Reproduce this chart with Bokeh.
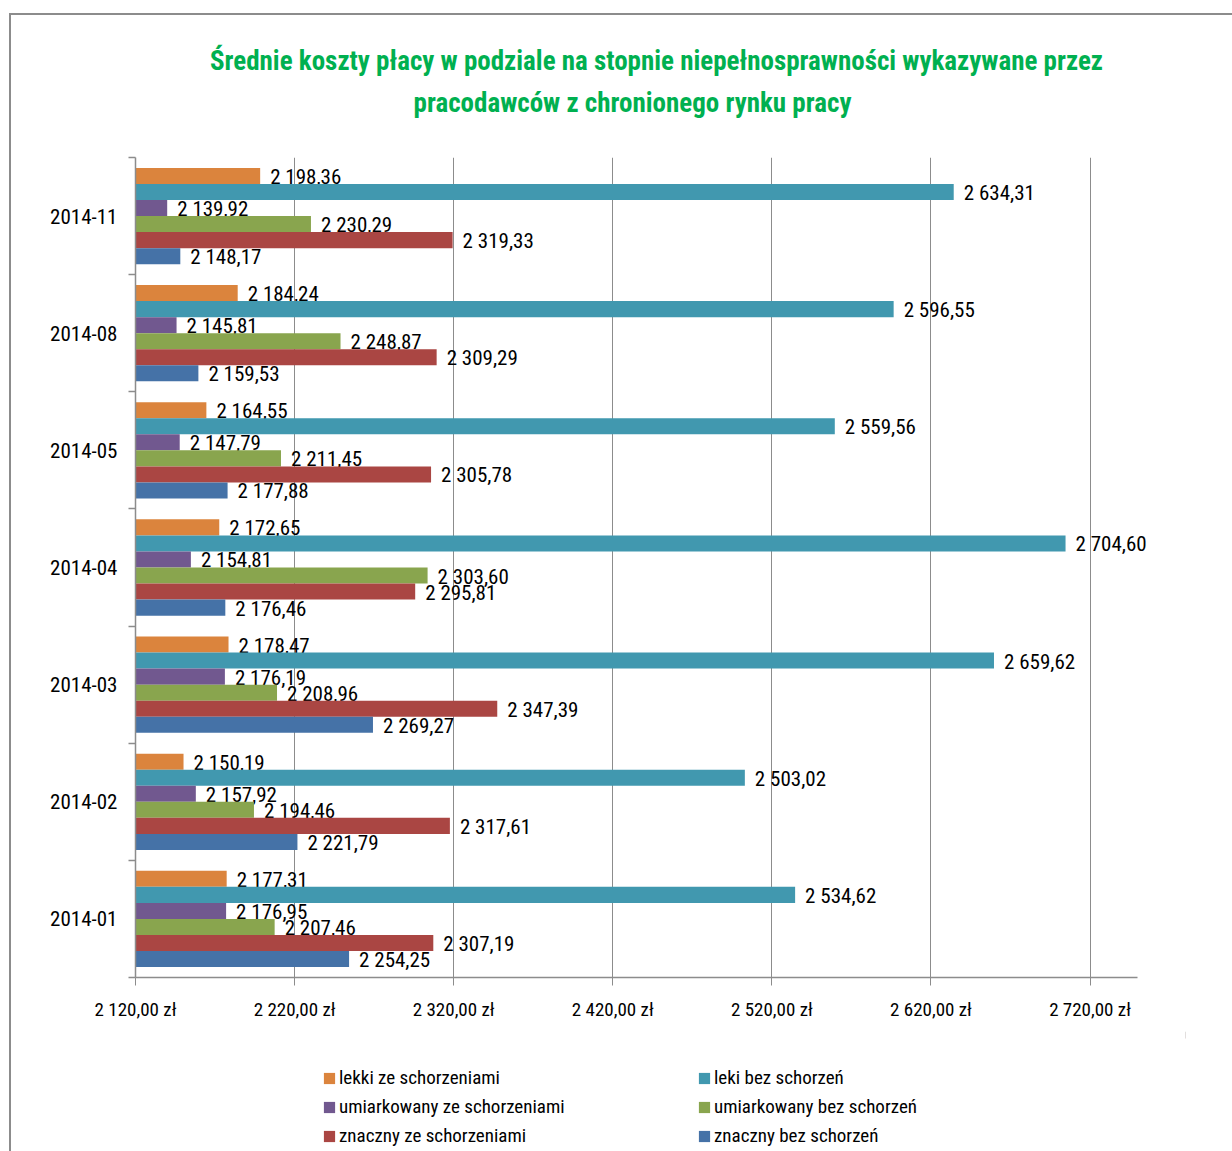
from bokeh.plotting import figure
from bokeh.models import Range1d, FixedTicker, Legend, LegendItem, ColumnDataSource, Label
from bokeh.layouts import column
from bokeh.core.properties import value
from bokeh.embed import file_html
from bokeh.resources import INLINE

# ---------------- data ----------------
categories = ["2014-11", "2014-08", "2014-05", "2014-04", "2014-03", "2014-02", "2014-01"]
series_names = ["lekki ze schorzeniami", "leki bez schorzeń",
                "umiarkowany ze schorzeniami", "umiarkowany bez schorzeń",
                "znaczny ze schorzeniami", "znaczny bez schorzeń"]
lekki_ze = [2198.36, 2184.24, 2164.55, 2172.65, 2178.47, 2150.19, 2177.31]
leki_bez = [2634.31, 2596.55, 2559.56, 2704.60, 2659.62, 2503.02, 2534.62]
umiarkowany_ze = [2139.92, 2145.81, 2147.79, 2154.81, 2176.19, 2157.92, 2176.95]
umiarkowany_bez = [2230.29, 2248.87, 2211.45, 2303.60, 2208.96, 2194.46, 2207.46]
znaczny_ze = [2319.33, 2309.29, 2305.78, 2295.81, 2347.39, 2317.61, 2307.19]
znaczny_bez = [2148.17, 2159.53, 2177.88, 2176.46, 2269.27, 2221.79, 2254.25]
series_values = [lekki_ze, leki_bez, umiarkowany_ze, umiarkowany_bez, znaczny_ze, znaczny_bez]
x_ticks = [2120, 2220, 2320, 2420, 2520, 2620, 2720]
title_lines = ["Średnie koszty płacy w podziale na stopnie niepełnosprawności wykazywane przez",
               "pracodawców z chronionego rynku pracy"]

# ---------------- style ----------------
colors = ["#DB843D", "#4198AF", "#71588F", "#89A54E", "#AA4643", "#4572A7"]
X_MIN, AX_END, VIEW_END = 2120, 2750, 2780
BAR_H = 0.137
FONT = "Roboto Condensed"
GRAY = "#8c8c8c"
W = 1232
FRAME_L, FRAME_R = 135, 1185          # plot frame in page pixels (shared by the column)
TITLE_H, MAIN_H, LEG_H = 150, 881, 120


def fmt(v, dec=2):
    s = f"{v:,.{dec}f}"
    return s.replace(",", " ").replace(".", ",")


def bare(h):
    f = figure(width=W, height=h, output_backend="svg", toolbar_location=None,
               x_axis_type=None, y_axis_type=None, min_border=0,
               min_border_left=FRAME_L, min_border_right=W - FRAME_R,
               x_range=Range1d(FRAME_L, FRAME_R), y_range=Range1d(h, 0))
    f.outline_line_color = None
    f.background_fill_color = None
    f.border_fill_color = None
    f.xgrid.visible = False
    f.ygrid.visible = False
    return f


# ---------------- title ----------------
pt = bare(TITLE_H)
for line, cx, cy in zip(title_lines, [656, 632], [60, 102]):
    pt.add_layout(Label(x=cx, y=cy, text=line, text_align="center", text_baseline="middle",
                        text_font=FONT, text_font_size="27px", text_font_style="bold",
                        text_color="#00B050"))

# ---------------- main chart ----------------
n = len(categories)
p = figure(width=W, height=MAIN_H, output_backend="svg", toolbar_location=None,
           x_range=Range1d(X_MIN, VIEW_END), y_range=Range1d(0, n),
           min_border_left=FRAME_L, min_border_right=W - FRAME_R, min_border_top=7,
           min_border_bottom=54)
p.outline_line_color = None
p.background_fill_color = "white"
p.border_fill_color = None

sources = []
for j, (name, vals) in enumerate(zip(series_names, series_values)):
    ys = [n - 0.5 - i + (2.5 - j) * BAR_H for i in range(n)]
    src = ColumnDataSource(dict(y=ys, right=vals, left=[X_MIN] * n,
                                lab=[fmt(v) for v in vals]))
    sources.append(src)
    p.hbar(y="y", left="left", right="right", height=BAR_H, source=src,
           fill_color=colors[j], line_color=None)
    p.text(x="right", y="y", text="lab", source=src, x_offset=10, y_offset=1,
           text_align="left", text_baseline="middle",
           text_font=value(FONT), text_font_size="21px", text_color="black")

p.xaxis.bounds = (X_MIN, AX_END)
p.xaxis.ticker = FixedTicker(ticks=x_ticks)
p.xaxis.major_label_overrides = {t: fmt(t) + " zł" for t in x_ticks}
p.xaxis.major_label_text_font = FONT
p.xaxis.major_label_text_font_size = "19px"
p.xaxis.major_label_text_color = "black"
p.xaxis.major_label_standoff = 12
p.xaxis.axis_line_color = GRAY
p.xaxis.axis_line_width = 1.5
p.xaxis.major_tick_line_color = GRAY
p.xaxis.major_tick_out = 8
p.xaxis.major_tick_in = 0
p.xaxis.minor_tick_line_color = None
p.xgrid.ticker = FixedTicker(ticks=x_ticks)
p.xgrid.grid_line_color = GRAY
p.xgrid.grid_line_width = 1

centers = [n - 0.5 - i for i in range(n)]
p.yaxis.ticker = FixedTicker(ticks=centers, minor_ticks=list(range(n + 1)))
p.yaxis.major_label_overrides = {c: cat for c, cat in zip(centers, categories)}
p.yaxis.major_label_text_font = FONT
p.yaxis.major_label_text_font_size = "21px"
p.yaxis.major_label_text_color = "black"
p.yaxis.major_label_standoff = 11
p.yaxis.axis_line_color = GRAY
p.yaxis.axis_line_width = 1.5
p.yaxis.major_tick_line_color = None
p.yaxis.major_tick_out = 0
p.yaxis.major_tick_in = 0
p.yaxis.minor_tick_line_color = GRAY
p.yaxis.minor_tick_line_width = 1.5
p.yaxis.minor_tick_out = 7
p.yaxis.minor_tick_in = 0
p.ygrid.visible = False

# ---------------- legend ----------------
pl = bare(LEG_H)
# same series sources; their values lie outside this panel's view, only the swatches show
leg_rs = [pl.hbar(y="y", left="left", right="right", height=BAR_H, source=s,
                  fill_color=c, line_color=None) for s, c in zip(sources, colors)]
for idxs, loc in [([0, 2, 4], (322 - FRAME_L, 4)), ([1, 3, 5], (697 - FRAME_L, 4))]:
    pl.add_layout(Legend(
        items=[LegendItem(label=series_names[i], renderers=[leg_rs[i]]) for i in idxs],
        location=loc, orientation="vertical",
        glyph_width=14, glyph_height=14, label_standoff=3,
        label_text_font=FONT, label_text_font_size="19px", label_text_color="black",
        label_height=20, spacing=6, padding=0, margin=0,
        border_line_color=None, background_fill_alpha=0))

page = column(pt, p, pl, spacing=0,
              styles={"box-shadow": "inset 9px 13px 0 0 #ffffff, inset 11px 15px 0 0 #8c8c8c"})
open("out.html", "w").write(file_html(page, INLINE))
